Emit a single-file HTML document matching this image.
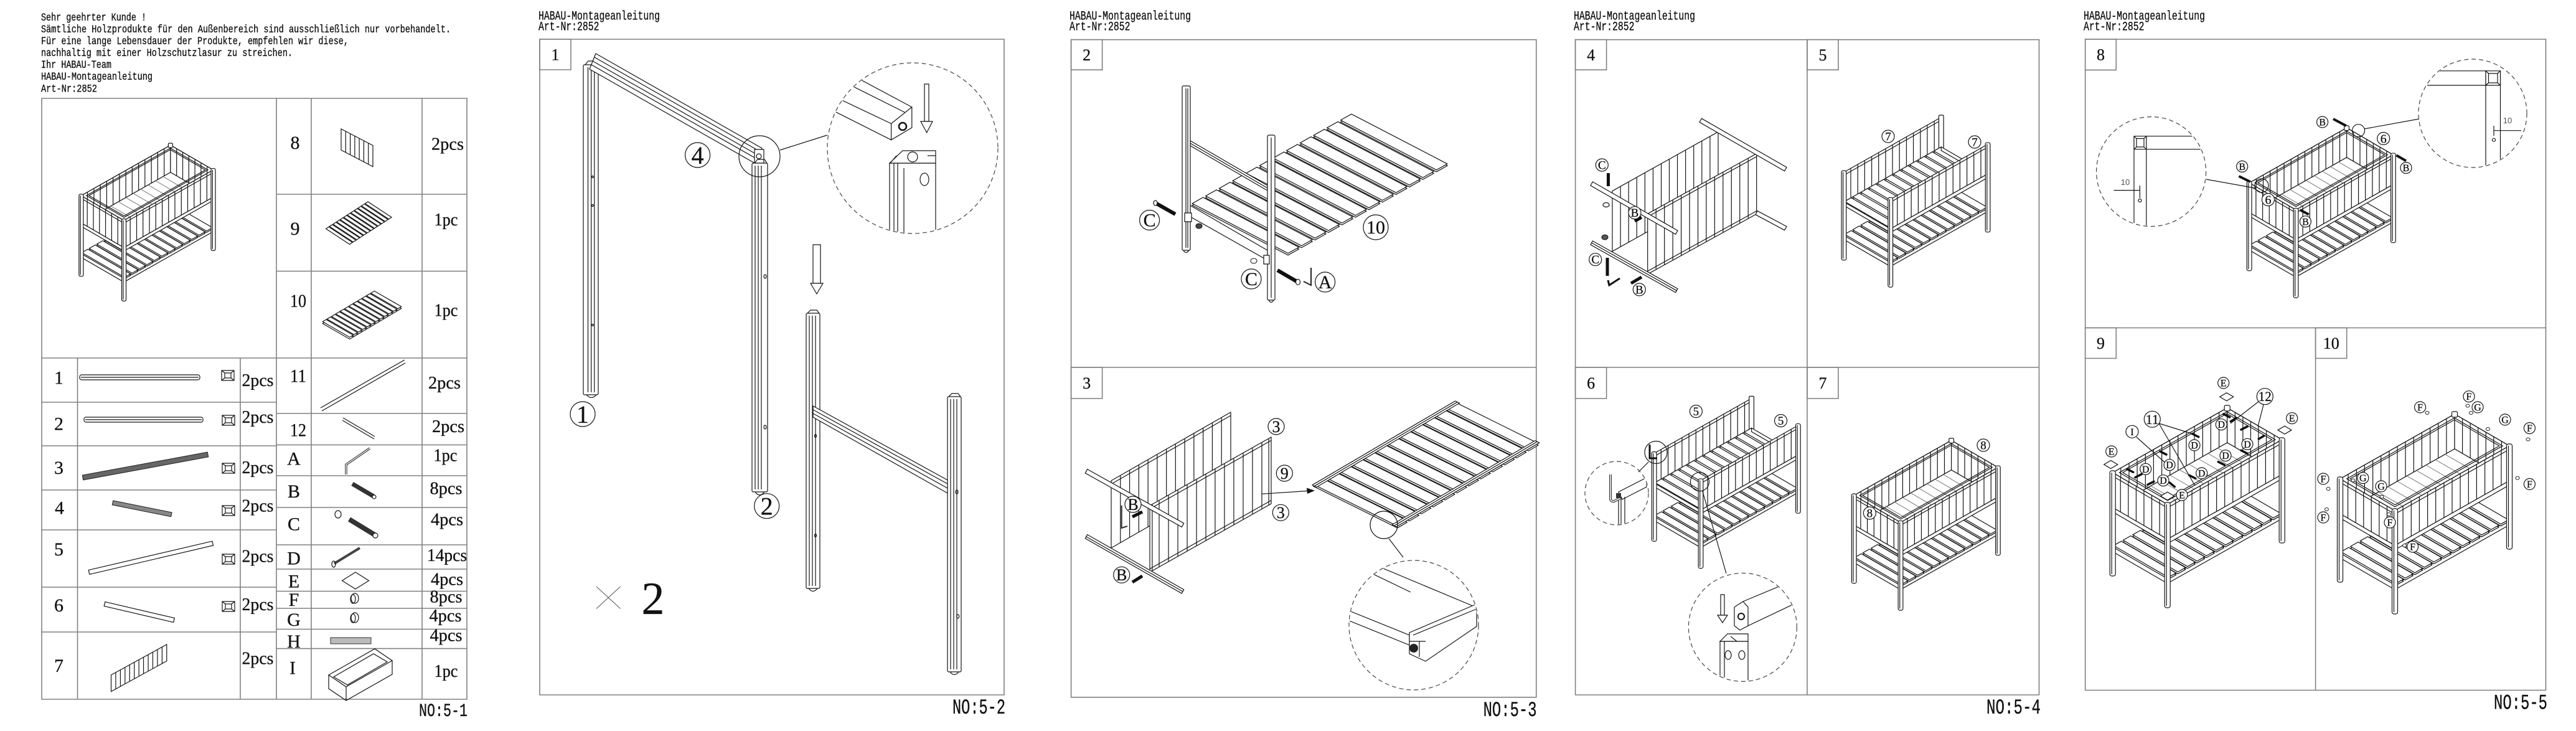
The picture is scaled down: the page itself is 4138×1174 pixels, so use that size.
<!DOCTYPE html>
<html><head><meta charset="utf-8">
<style>
html,body{margin:0;padding:0;background:#fff;}
svg{display:block}
</style></head><body>
<svg xmlns="http://www.w3.org/2000/svg" width="4138" height="1174" viewBox="0 0 4138 1174">
<style>
path,rect,line,polygon,polyline,circle,ellipse{vector-effect:non-scaling-stroke}
.f{fill:none;stroke:#151515;stroke-width:1.2}
.lf{fill:none;stroke:#777;stroke-width:1}
.w{fill:#fff;stroke:#151515;stroke-width:1.2}
.g{fill:none;stroke:#808080;stroke-width:1.6}
.d{fill:none;stroke:#444;stroke-width:1.2;stroke-dasharray:7 5}
.mono{font-family:"Liberation Mono",monospace;fill:#111;stroke:#111;stroke-width:0.35}
.ser{font-family:"Liberation Serif",serif;fill:#111;stroke:#111;stroke-width:0.3}
</style>
<rect width="4138" height="1174" fill="#fff"/>
<defs>
 <g id="s12"><rect x=".008" width=".067" height="1"/><rect x=".091" width=".067" height="1"/><rect x=".175" width=".067" height="1"/><rect x=".258" width=".067" height="1"/><rect x=".341" width=".067" height="1"/><rect x=".425" width=".067" height="1"/><rect x=".508" width=".067" height="1"/><rect x=".591" width=".067" height="1"/><rect x=".675" width=".067" height="1"/><rect x=".758" width=".067" height="1"/><rect x=".841" width=".067" height="1"/><rect x=".925" width=".067" height="1"/></g>
 <g id="s12h"><rect y=".008" height=".067" width="1"/><rect y=".091" height=".067" width="1"/><rect y=".175" height=".067" width="1"/><rect y=".258" height=".067" width="1"/><rect y=".341" height=".067" width="1"/><rect y=".425" height=".067" width="1"/><rect y=".508" height=".067" width="1"/><rect y=".591" height=".067" width="1"/><rect y=".675" height=".067" width="1"/><rect y=".758" height=".067" width="1"/><rect y=".841" height=".067" width="1"/><rect y=".925" height=".067" width="1"/></g>
 <path id="l14" d="M.071 0V1M.143 0V1M.214 0V1M.286 0V1M.357 0V1M.429 0V1M.5 0V1M.571 0V1M.643 0V1M.714 0V1M.786 0V1M.857 0V1M.929 0V1"/>
 <path id="l13" d="M.077 0V1M.154 0V1M.231 0V1M.308 0V1M.385 0V1M.462 0V1M.538 0V1M.615 0V1M.692 0V1M.769 0V1M.846 0V1M.923 0V1"/>
 <path id="l7" d="M.143 0V1M.286 0V1M.429 0V1M.571 0V1M.714 0V1M.857 0V1"/>
 <path id="l12" d="M.083 0V1M.167 0V1M.25 0V1M.333 0V1M.417 0V1M.5 0V1M.583 0V1M.667 0V1M.75 0V1M.833 0V1M.917 0V1"/>
 <g id="prof"><rect class="w" x="-10" y="-8" width="20" height="16"/><rect class="f" x="-5" y="-4" width="10" height="8"/><path class="f" d="M-10 -8L-5 -4M10 -8L5 -4M-10 8L-5 4M10 8L5 4"/></g>

 <g id="bedF">
  <g transform="matrix(184,-104,0,8,0,119)"><rect class="w" width="1" height="1"/></g>
  <g transform="matrix(88,51,0,8,-88,68)"><rect class="w" width="1" height="1"/></g>
  <g transform="matrix(184,-104,-88,-51,0,121)"><use href="#s12" class="w"/></g>
  <g transform="matrix(184,-104,-88,-51,0,118)"><use href="#s12" class="w"/></g>
  <g transform="matrix(184,-104,0,56,-88,-51)"><rect class="w" width="1" height="1"/><use href="#l14" class="f"/></g>
  <g transform="matrix(88,51,0,56,96,-155)"><rect class="w" width="1" height="1"/><use href="#l7" class="f"/></g>
  <g transform="matrix(184,-104,-88,-51,0,56)"><rect class="w" width="1" height="1"/><use href="#l12" class="lf"/></g>
  <g transform="matrix(184,-104,0,56,0,0)"><rect class="w" width="1" height="1"/><use href="#l14" class="f"/><path class="f" d="M0 .1H1"/></g>
  <g transform="matrix(184,-104,0,7,0,56)"><rect class="w" width="1" height="1"/></g>
  <g transform="matrix(88,51,0,56,-88,-51)"><rect class="w" width="1" height="1"/><use href="#l7" class="f"/><path class="f" d="M0 .1H1"/></g>
  <g transform="matrix(88,51,0,7,-88,5)"><rect class="w" width="1" height="1"/></g>
  <g transform="matrix(184,-104,-88,-51,0,0)" class="f"><rect width="1" height="1"/><rect x=".03" y=".06" width=".94" height=".88"/><rect x=".045" y=".09" width=".91" height=".82"/></g>
  <g class="w"><rect x="-4.5" y="-3" width="9" height="169" rx="3"/><rect x="-92.5" y="-54" width="9" height="169" rx="3"/><rect x="179.5" y="-107" width="9" height="169" rx="3"/><rect x="91.5" y="-159" width="9" height="9" rx="2"/></g>
  <path class="f" d="M-1.5 0V163M-89.5 -51V112M182.5 -104V59"/>
 </g>

 <g id="bedO">
  <g transform="matrix(184,-104,0,8,0,119)"><rect class="w" width="1" height="1"/></g>
  <g transform="matrix(88,51,0,8,-88,68)"><rect class="w" width="1" height="1"/></g>
  <g transform="matrix(184,-104,-88,-51,0,121)"><use href="#s12" class="w"/></g>
  <g transform="matrix(184,-104,-88,-51,0,118)"><use href="#s12" class="w"/></g>
  <g transform="matrix(184,-104,0,56,-88,-51)"><rect class="w" width="1" height="1"/><use href="#l14" class="f"/><path class="f" d="M0 .1H1"/></g>
  <rect class="w" x="91.5" y="-159" width="9" height="64" rx="2"/>
  <g transform="matrix(184,-104,-88,-51,0,59)"><rect class="w" width="1" height="1"/></g>
  <g transform="matrix(184,-104,-88,-51,0,56)"><use href="#s12" class="w"/></g>
  <g transform="matrix(88,51,0,7,96,-99)"><rect class="w" width="1" height="1"/></g>
  <g transform="matrix(184,-104,0,56,0,0)"><rect class="w" width="1" height="1"/><use href="#l14" class="f"/><path class="f" d="M0 .1H1"/></g>
  <g transform="matrix(184,-104,0,7,0,56)"><rect class="w" width="1" height="1"/></g>
  <g transform="matrix(88,51,0,7,-88,5)"><rect class="w" width="1" height="1"/></g>
  <g class="w"><rect x="-4.5" y="-3" width="9" height="169" rx="3"/><rect x="-92.5" y="-54" width="9" height="169" rx="3"/><rect x="179.5" y="-107" width="9" height="169" rx="3"/></g>
  <path class="f" d="M-1.5 0V163M-89.5 -51V112M182.5 -104V59"/>
 </g>

 <clipPath id="c1"><circle cx="1466" cy="238" r="136"/></clipPath>
 <clipPath id="c2"><circle cx="2271" cy="1004" r="103"/></clipPath>
 <clipPath id="c3"><circle cx="2597" cy="792" r="50"/></clipPath>
 <clipPath id="c4"><circle cx="2799" cy="1007" r="86"/></clipPath>
 <clipPath id="c5"><circle cx="3455.6" cy="275.6" r="87"/></clipPath>
 <clipPath id="c6"><circle cx="3972" cy="182" r="86"/></clipPath>
</defs>

<!-- ================= PAGE 1 ================= -->
<g class="mono" font-size="17.5">
 <text x="66" y="33" textLength="169" lengthAdjust="spacingAndGlyphs">Sehr geehrter Kunde !</text>
 <text x="66" y="52" textLength="658" lengthAdjust="spacingAndGlyphs">Sämtliche Holzprodukte für den Außenbereich sind ausschließlich nur vorbehandelt.</text>
 <text x="66" y="71" textLength="494" lengthAdjust="spacingAndGlyphs">Für eine lange Lebensdauer der Produkte, empfehlen wir diese,</text>
 <text x="66" y="90" textLength="404" lengthAdjust="spacingAndGlyphs">nachhaltig mit einer Holzschutzlasur zu streichen.</text>
 <text x="66" y="109" textLength="113" lengthAdjust="spacingAndGlyphs">Ihr HABAU-Team</text>
 <text x="66" y="128" textLength="179" lengthAdjust="spacingAndGlyphs">HABAU-Montageanleitung</text>
 <text x="66" y="147.5" textLength="90" lengthAdjust="spacingAndGlyphs">Art-Nr:2852</text>
</g>
<rect class="g" x="67" y="158" width="683" height="965"/>
<path class="g" d="M444 158V1123M500 158V1123M678 158V1123M124.5 575V1123M386 575V1123
M67 575H750M67 646H444M67 716H444M67 787H444M67 851H444M67 943H444M67 1015H444
M444 312H750M444 435.5H750M444 664H750M444 714.5H750M444 764H750M444 815H750M444 875H750M444 914H750M444 949.5H750M444 977H750M444 1010.5H750M444 1041.6H750"/>

<use href="#bedF" transform="translate(199,354) scale(0.78)"/>

<!-- right top parts -->
<g transform="matrix(51,26.6,0,34,548,207)"><rect class="w" width="1" height="1"/><use href="#l7" class="f"/></g>
<g transform="matrix(68.6,-44.1,38,25,523,367.7)"><use href="#s12" class="w"/></g>
<g transform="matrix(84.4,-50,43.4,25,517.6,520)"><use href="#s12" class="w"/></g>
<g transform="matrix(84.4,-50,43.4,25,517.6,517)"><use href="#s12" class="w"/></g>
<path class="f" d="M515 655L650 578M517 660L651 583"/>
<path class="f" d="M551 671L602 701M550 675L601 705"/>
<path d="M556 762V746L594 720" fill="none" stroke="#333" stroke-width="3.5"/>
<path d="M556 762V746L594 720" fill="none" stroke="#fff" stroke-width="1.3"/>
<line x1="566" y1="777" x2="600" y2="797" stroke="#333" stroke-width="7"/><circle class="w" cx="601" cy="798" r="3"/>
<ellipse class="f" cx="543" cy="826" rx="5" ry="6"/><line x1="561" y1="834" x2="602" y2="859" stroke="#333" stroke-width="8"/><circle class="w" cx="603" cy="860" r="4"/>
<line x1="537" y1="905" x2="578" y2="880" stroke="#444" stroke-width="4"/><ellipse class="f" cx="536" cy="906" rx="3" ry="5"/>
<polygon class="f" points="549.5,932.5 571,919 592.5,932.5 571,946"/>
<ellipse class="w" cx="570" cy="961" rx="6" ry="8"/><ellipse class="f" cx="567" cy="962" rx="4" ry="7"/>
<ellipse class="w" cx="570" cy="992" rx="6" ry="8"/><ellipse class="f" cx="567" cy="993" rx="4" ry="7"/>
<rect x="531" y="1024" width="65" height="10" fill="#bbb" stroke="#333"/>
<path class="f" d="M528 1084L602 1042L630 1061L556 1103Z M528 1084V1106L556 1125L630 1083V1061M556 1103V1125 M536 1087L600 1050L622 1063L558 1100Z"/>
<!-- left parts -->
<rect class="w" x="128" y="602" width="193" height="8" rx="3"/><path class="f" d="M130 606H319"/>
<rect class="w" x="135" y="670" width="191" height="8" rx="3"/><path class="f" d="M137 674H324"/>
<polygon points="132.3,763.1 333.3,726.1 334.7,733.9 133.7,770.9" fill="#666" stroke="#222"/>
<polygon points="181.7,804 276.1,823 274.7,829.8 180.3,810.8" fill="#888" stroke="#222"/>
<polygon class="w" points="142.2,915.6 340.9,869.2 342.5,876 143.8,922.4"/>
<polygon class="w" points="168.8,966.6 280.3,992.6 278.7,999.4 167.2,973.4"/>
<g transform="matrix(89.3,-49,0,26.6,178.5,1084)"><rect class="w" width="1" height="1"/><use href="#l12" class="f"/></g>
<use href="#prof" x="366" y="603"/><use href="#prof" x="367" y="675"/><use href="#prof" x="367" y="752"/><use href="#prof" x="367" y="820"/><use href="#prof" x="367" y="898"/><use href="#prof" x="367" y="974"/>
<!-- labels -->
<g class="ser" font-size="30" text-anchor="middle">
 <text x="474" y="239">8</text><text x="474" y="377">9</text><text x="479" y="493" textLength="26" lengthAdjust="spacingAndGlyphs">10</text>
 <text x="479" y="613.5" textLength="26" lengthAdjust="spacingAndGlyphs">11</text><text x="479" y="700.7" textLength="26" lengthAdjust="spacingAndGlyphs">12</text>
 <text x="472" y="746.5">A</text><text x="472" y="799">B</text><text x="472" y="851.5">C</text><text x="472" y="906.5">D</text><text x="472" y="943.6">E</text><text x="472" y="972.8">F</text><text x="472" y="1005">G</text><text x="472" y="1040">H</text><text x="470" y="1082.7">I</text>
 <text x="94.5" y="616.5">1</text><text x="94.5" y="690.4">2</text><text x="94.5" y="761">3</text><text x="95.5" y="825.7">4</text><text x="94.5" y="892">5</text><text x="94.5" y="982">6</text><text x="94.5" y="1079">7</text>
</g>
<g class="ser" font-size="28" text-anchor="middle">
 <text x="719" y="240.4" textLength="52" lengthAdjust="spacingAndGlyphs">2pcs</text>
 <text x="716.5" y="362" textLength="38" lengthAdjust="spacingAndGlyphs">1pc</text>
 <text x="716.5" y="507.7" textLength="38" lengthAdjust="spacingAndGlyphs">1pc</text>
 <text x="714" y="624" textLength="52" lengthAdjust="spacingAndGlyphs">2pcs</text>
 <text x="720" y="694" textLength="52" lengthAdjust="spacingAndGlyphs">2pcs</text>
 <text x="715.5" y="740.6" textLength="38" lengthAdjust="spacingAndGlyphs">1pc</text>
 <text x="716.5" y="793.7" textLength="52" lengthAdjust="spacingAndGlyphs">8pcs</text>
 <text x="718" y="843.7" textLength="52" lengthAdjust="spacingAndGlyphs">4pcs</text>
 <text x="718" y="901" textLength="64" lengthAdjust="spacingAndGlyphs">14pcs</text>
 <text x="718" y="939.6" textLength="52" lengthAdjust="spacingAndGlyphs">4pcs</text>
 <text x="716.5" y="967.7" textLength="52" lengthAdjust="spacingAndGlyphs">8pcs</text>
 <text x="715.5" y="998" textLength="52" lengthAdjust="spacingAndGlyphs">4pcs</text>
 <text x="716.5" y="1029.4" textLength="52" lengthAdjust="spacingAndGlyphs">4pcs</text>
 <text x="716.5" y="1087" textLength="38" lengthAdjust="spacingAndGlyphs">1pc</text>
 <text x="414" y="620" textLength="51" lengthAdjust="spacingAndGlyphs">2pcs</text>
 <text x="414" y="679" textLength="51" lengthAdjust="spacingAndGlyphs">2pcs</text>
 <text x="414" y="760" textLength="51" lengthAdjust="spacingAndGlyphs">2pcs</text>
 <text x="414" y="821.7" textLength="51" lengthAdjust="spacingAndGlyphs">2pcs</text>
 <text x="414" y="902.5" textLength="51" lengthAdjust="spacingAndGlyphs">2pcs</text>
 <text x="414" y="980" textLength="51" lengthAdjust="spacingAndGlyphs">2pcs</text>
 <text x="414" y="1066.6" textLength="51" lengthAdjust="spacingAndGlyphs">2pcs</text>
</g>
<text class="mono" x="673" y="1150" font-size="30" textLength="78" lengthAdjust="spacingAndGlyphs">NO:5-1</text>

<!-- ================= PAGE 2 ================= -->
<g class="mono" font-size="20">
 <text x="865" y="31.7" textLength="195" lengthAdjust="spacingAndGlyphs">HABAU-Montageanleitung</text>
 <text x="865" y="48.3" textLength="97.5" lengthAdjust="spacingAndGlyphs">Art-Nr:2852</text>
</g>
<rect class="g" x="867" y="63" width="746" height="1053"/>
<rect class="g" x="867" y="63" width="50" height="49"/>
<text class="ser" x="892" y="96.5" font-size="26" text-anchor="middle">1</text>
<!-- left post -->
<rect class="w" x="937" y="104" width="24" height="530" rx="2"/>
<path class="f" d="M944.5 108V630M949.7 108V630M954.8 108V630"/>
<path class="f" d="M942 634Q950 643 958 634"/>
<path class="f" d="M940 104L945 98H955L960 104"/>
<circle class="f" cx="952" cy="284" r="1.5"/><circle class="f" cx="952" cy="330" r="1.5"/><circle class="f" cx="952" cy="522" r="1.5"/>
<!-- rail 4 -->
<polygon class="w" points="957,86 1224,238 1214,263 947,111"/>
<path class="f" d="M955 92L1222 244M952 98L1219 250M950 104L1217 256"/>
<rect class="w" x="1212" y="240" width="15" height="22"/><circle class="f" cx="1219" cy="251" r="4"/>
<!-- post 2 -->
<rect class="w" x="1208" y="262" width="25" height="528" rx="2"/>
<path class="f" d="M1213 266V786M1218 266V786M1223 266V786"/>
<path class="f" d="M1212 262L1217 256H1228L1232 262"/>
<path class="f" d="M1213 790Q1220 800 1228 790"/>
<ellipse class="f" cx="1229" cy="444" rx="2" ry="3"/><ellipse class="f" cx="1229" cy="686" rx="2" ry="3"/>
<!-- magnifier -->
<circle class="f" cx="1220" cy="251" r="33"/>
<line class="f" x1="1253" y1="241" x2="1329" y2="217"/>
<circle class="d" cx="1466" cy="238" r="137"/>
<g clip-path="url(#c1)">
 <path class="f" d="M1320 94.6L1464.8 172M1320 113.6L1459.6 183.5M1320 145.5L1431.6 198.5M1320 168.5L1431.6 224.7"/>
 <polygon class="w" points="1431.6,198.5 1464.8,172 1464.8,205 1431.6,224.7"/>
 <circle cx="1450" cy="203" r="6" fill="#fff" stroke="#111" stroke-width="2.5"/>
 <rect class="w" x="1429" y="262" width="74" height="130"/>
 <polygon class="w" points="1429,262 1450,242 1503,242 1503,262"/>
 <circle class="f" cx="1466" cy="252" r="8"/>
 <path class="f" d="M1436 262V392M1442 262V392M1452 270V392M1440 250L1430 262M1490 250H1503"/>
 <ellipse class="f" cx="1485" cy="288" rx="7" ry="10"/>
</g>
<rect class="w" x="1485" y="135" width="7" height="60"/>
<polygon class="w" points="1479,195 1498,195 1488.7,213"/>
<!-- arrow 2 -->
<rect class="w" x="1306" y="393" width="12" height="62"/>
<polygon class="w" points="1302,455 1322,455 1312,472"/>
<!-- H frame -->
<rect class="w" x="1295" y="503" width="22" height="442" rx="2"/>
<path class="f" d="M1300 507V941M1305 507V941M1310 507V941M1297 503L1302 498H1312L1316 503M1299 945Q1306 954 1313 945"/>
<rect class="w" x="1522" y="637" width="22" height="442" rx="2"/>
<path class="f" d="M1527 641V1075M1532 641V1075M1537 641V1075M1524 637L1529 632H1539L1543 637M1526 1079Q1533 1088 1540 1079"/>
<polygon class="w" points="1306,652 1522,771 1522,792 1306,670"/>
<path class="f" d="M1306 658L1522 777M1306 664L1522 784"/>
<ellipse class="f" cx="1537" cy="790" rx="2" ry="3"/><ellipse class="f" cx="1538.7" cy="990" rx="2" ry="3"/>
<ellipse class="f" cx="1310" cy="700" rx="1.5" ry="2.5"/><ellipse class="f" cx="1310" cy="860" rx="1.5" ry="2.5"/>
<!-- labels -->
<circle class="w" cx="936" cy="665" r="20"/><text class="ser" x="936" y="679" font-size="40" text-anchor="middle">1</text>
<circle class="w" cx="1231.7" cy="812.7" r="20"/><text class="ser" x="1231.7" y="826.7" font-size="40" text-anchor="middle">2</text>
<circle class="w" cx="1120.6" cy="249" r="20"/><text class="ser" x="1120.6" y="263" font-size="40" text-anchor="middle">4</text>
<path d="M958 942L996.6 977.5M958 977.5L996.6 942" stroke="#555" stroke-width="1" fill="none"/>
<text class="ser" x="1049" y="986" font-size="74" text-anchor="middle">2</text>
<text class="mono" x="1530" y="1146" font-size="34" textLength="85" lengthAdjust="spacingAndGlyphs">NO:5-2</text>

<!-- ================= PAGE 3 ================= -->
<g class="mono" font-size="20">
 <text x="1718" y="31.7" textLength="195" lengthAdjust="spacingAndGlyphs">HABAU-Montageanleitung</text>
 <text x="1718" y="48.3" textLength="97.5" lengthAdjust="spacingAndGlyphs">Art-Nr:2852</text>
</g>
<rect class="g" x="1720.6" y="63.7" width="747.2" height="1056.1"/>
<path class="g" d="M1720.6 590H2467.8"/>
<rect class="g" x="1720.6" y="63.7" width="50" height="48.5"/>
<rect class="g" x="1720.6" y="590" width="50" height="50"/>
<text class="ser" x="1745.6" y="97" font-size="26" text-anchor="middle">2</text>
<text class="ser" x="1745.6" y="624" font-size="26" text-anchor="middle">3</text>
<!-- panel 2 -->
<polygon class="w" points="1912,330 2036,402 2036,418 1912,348"/>
<g transform="matrix(154,80,260,-146,1913,331)"><use href="#s12h" class="w"/></g>
<g transform="matrix(154,80,260,-146,1913,328)"><use href="#s12h" class="w"/></g>
<polygon class="w" points="1912,226 2036,298 2036,306 1912,234"/>
<path class="f" d="M1912 230L2036 302"/>
<rect class="w" x="1899" y="138" width="13" height="264" rx="2"/>
<path class="f" d="M1905 142V398M1908 142V398M1901 402Q1905 409 1910 402"/>
<rect class="w" x="2036" y="217" width="12" height="265" rx="2"/>
<path class="f" d="M2042 221V478M2038 482Q2042 489 2046 482"/>
<rect class="w" x="1903" y="342" width="11" height="14"/>
<rect class="w" x="2030" y="410" width="9" height="14"/>
<line x1="1857" y1="326.5" x2="1888" y2="344" stroke="#111" stroke-width="6"/>
<ellipse class="w" cx="1856" cy="326" rx="3" ry="4"/>
<ellipse cx="1926" cy="363" rx="5" ry="4" fill="#444" stroke="#111"/>
<ellipse cx="2014" cy="419" rx="5" ry="4" fill="#fff" stroke="#111"/>
<line x1="2052" y1="434" x2="2083" y2="452" stroke="#111" stroke-width="6"/>
<ellipse class="w" cx="2085" cy="453" rx="3.5" ry="4.5"/>
<path d="M2106 430V458L2094 452" fill="none" stroke="#222" stroke-width="2"/>
<circle class="w" cx="1846.6" cy="353.5" r="16"/><text class="ser" x="1846.6" y="363.7" font-size="30" text-anchor="middle">C</text>
<circle class="w" cx="2010" cy="448" r="16"/><text class="ser" x="2010" y="458.2" font-size="30" text-anchor="middle">C</text>
<circle class="w" cx="2128.6" cy="453" r="16"/><text class="ser" x="2128.6" y="463.2" font-size="30" text-anchor="middle">A</text>
<circle class="w" cx="2210" cy="365" r="20"/><text class="ser" x="2210" y="375.2" font-size="30" text-anchor="middle" textLength="30" lengthAdjust="spacingAndGlyphs">10</text>
<!-- panel 3 -->
<g transform="matrix(192,-110,0,108,1785,772)"><rect class="w" width="1" height="1"/><use href="#l13" class="f"/><path class="f" d="M0 .05H1"/></g>
<g transform="matrix(195,-110,0,107,1847,812)"><rect class="w" width="1" height="1"/><use href="#l13" class="f"/><path class="f" d="M0 .05H1M0 .95H1M.02 0V1M.98 0V1"/></g>
<polygon class="w" points="1746.7,753.6 1901.7,840.3 1898.3,846.4 1743.3,759.8"/>
<polygon class="w" points="1746.7,858.6 1901.7,947 1898.3,953 1743.3,864.7"/>
<path class="f" d="M1745 862L1900 950"/>
<line x1="1819" y1="830" x2="1835" y2="822" stroke="#111" stroke-width="5"/>
<line x1="1819" y1="935" x2="1835" y2="925" stroke="#111" stroke-width="5"/>
<path d="M1801.7 811.7V848L1811 845" fill="none" stroke="#333" stroke-width="2"/>
<circle class="w" cx="1820" cy="810" r="13"/><text class="ser" x="1820" y="818.8" font-size="26" text-anchor="middle">B</text>
<circle class="w" cx="1801.7" cy="923.3" r="13"/><text class="ser" x="1801.7" y="932.1" font-size="26" text-anchor="middle">B</text>
<circle class="w" cx="2050" cy="685" r="13"/><text class="ser" x="2050" y="693.8" font-size="26" text-anchor="middle">3</text>
<circle class="w" cx="2063.3" cy="760" r="13"/><text class="ser" x="2063.3" y="768.8" font-size="26" text-anchor="middle">9</text>
<circle class="w" cx="2057.3" cy="823.3" r="13"/><text class="ser" x="2057.3" y="832.1" font-size="26" text-anchor="middle">3</text>
<line class="f" x1="2026.7" y1="793.3" x2="2100" y2="788.5"/>
<polygon points="2112,788 2099,783.5 2100,793" fill="#111"/>
<!-- platform 9 -->
<g transform="matrix(229.7,-135,135,67,2108,782)"><use href="#s12" class="w"/></g>
<g transform="matrix(229.7,-135,135,67,2108,779)"><use href="#s12" class="w"/><rect class="w" width="1" height=".05"/><rect class="w" y=".95" width="1" height=".05"/><path class="f" d="M0 .025H1M0 .975H1"/></g>
<circle class="f" cx="2223" cy="843" r="22"/>
<line class="f" x1="2231" y1="865" x2="2254" y2="895"/>
<circle class="d" cx="2271" cy="1004" r="104"/>
<g clip-path="url(#c2)">
 <path class="f" d="M2160 887L2368 974M2160 900L2266 951"/>
 <polygon class="w" points="2160,978 2264,1020 2264,1036 2160,994"/>
 <polygon class="w" points="2264,1016 2372,970 2372,1006 2290,1062 2264,1050"/>
 <path class="f" d="M2270 1020L2372 978M2280 1030V1055M2264 1030H2290"/>
 <circle cx="2271" cy="1041" r="7" fill="#222"/>
</g>
<text class="mono" x="2382.6" y="1150" font-size="34" textLength="86" lengthAdjust="spacingAndGlyphs">NO:5-3</text>

<!-- ================= PAGE 4 ================= -->
<g class="mono" font-size="20">
 <text x="2528" y="31.7" textLength="195" lengthAdjust="spacingAndGlyphs">HABAU-Montageanleitung</text>
 <text x="2528" y="48.3" textLength="97.5" lengthAdjust="spacingAndGlyphs">Art-Nr:2852</text>
</g>
<rect class="g" x="2530.6" y="63.7" width="744.9" height="1052.3"/>
<path class="g" d="M2903 63.7V1116M2530.6 590H3275.5"/>
<rect class="g" x="2530.6" y="63.7" width="50" height="48.5"/>
<rect class="g" x="2903" y="63.7" width="50" height="48.5"/>
<rect class="g" x="2530.6" y="590" width="50" height="50"/>
<rect class="g" x="2903" y="590" width="50" height="50"/>
<text class="ser" x="2555.6" y="97" font-size="26" text-anchor="middle">4</text>
<text class="ser" x="2928" y="97" font-size="26" text-anchor="middle">5</text>
<text class="ser" x="2555.6" y="624" font-size="26" text-anchor="middle">6</text>
<text class="ser" x="2928" y="624" font-size="26" text-anchor="middle">7</text>
<!-- panel 4 -->
<g transform="matrix(170,-95,0,97,2590,306.7)"><rect class="w" width="1" height="1"/><use href="#l13" class="f"/></g>
<g transform="matrix(175,-96.6,0,97,2646.7,343.3)"><rect class="w" width="1" height="1"/><use href="#l13" class="f"/><path class="f" d="M0 .05H1M0 .95H1"/></g>
<polygon class="w" points="2733.4,190.3 2870,268.7 2866.6,274.7 2730,196.3"/>
<polygon class="w" points="2823,338.7 2870,363.7 2866.6,369.7 2820,344.7"/>
<polygon class="w" points="2558.4,292 2695,370.3 2691.6,376.3 2555,298"/>
<polygon class="w" points="2558.4,387 2695,463.7 2691.6,469.7 2555,393"/>
<path class="f" d="M2556.7 390L2693.3 466.7"/>
<rect x="2581" y="278" width="5" height="21" fill="#111"/>
<rect x="2579.5" y="414" width="5" height="29" fill="#111"/>
<ellipse class="f" cx="2580" cy="329" rx="5" ry="3.5"/><ellipse cx="2578" cy="381" rx="5" ry="4" fill="#555" stroke="#111"/>
<line x1="2626" y1="355" x2="2637" y2="349" stroke="#111" stroke-width="5"/>
<line x1="2620" y1="455" x2="2637" y2="445" stroke="#111" stroke-width="5"/>
<path d="M2583 450L2585 458L2602 447" fill="none" stroke="#111" stroke-width="3"/>
<g class="ser" font-size="19" text-anchor="middle">
 <circle class="w" cx="2573.3" cy="265" r="10"/><text x="2573.3" y="271.5">C</text>
 <circle class="w" cx="2626" cy="341.7" r="10"/><text x="2626" y="348.2">B</text>
 <circle class="w" cx="2562.7" cy="416.7" r="10"/><text x="2562.7" y="423.2">C</text>
 <circle class="w" cx="2633.3" cy="465" r="10"/><text x="2633.3" y="471.5">B</text>
</g>
<!-- panel 5 -->
<use href="#bedO" transform="translate(3036.7,320) scale(0.85)"/>
<g class="ser" font-size="19" text-anchor="middle">
 <circle class="w" cx="3033" cy="219" r="10"/><text x="3033" y="225.5">7</text>
 <circle class="w" cx="3172" cy="228" r="10"/><text x="3172" y="234.5">7</text>
</g>
<!-- panel 6 -->
<use href="#bedO" transform="translate(2732,771.5) scale(0.85)"/>
<circle class="f" cx="2660" cy="726.5" r="18"/>
<path d="M2650 714V736H2662" fill="none" stroke="#111" stroke-width="3"/>
<line class="f" x1="2648" y1="742" x2="2632" y2="758"/>
<circle class="d" cx="2597" cy="792" r="51"/>
<g clip-path="url(#c3)">
 <polygon class="w" points="2600,790 2645,767 2645,782 2606,802"/>
 <path class="f" d="M2600 798V850M2610 798V850M2604 798V850"/>
 <path d="M2587 762V800Q2587 806 2593 805L2603 800" fill="none" stroke="#333" stroke-width="4"/>
 <path d="M2587 762V800Q2587 806 2593 805L2603 800" fill="none" stroke="#fff" stroke-width="1.6"/>
 <rect x="2596" y="792" width="8" height="8" fill="#333"/>
</g>
<circle class="f" cx="2730.5" cy="773.7" r="15"/>
<line class="f" x1="2734.6" y1="788" x2="2773" y2="921"/>
<circle class="d" cx="2799.4" cy="1007.4" r="87"/>
<g clip-path="url(#c4)">
 <polygon class="w" points="2800,966 2886,930 2886,968 2808,1005"/>
 <polygon class="w" points="2786,975 2800,966 2808,975 2808,1005 2795,1012 2786,1005"/>
 <circle cx="2797" cy="990" r="5" fill="#fff" stroke="#111" stroke-width="2"/>
 <rect class="w" x="2763" y="1030" width="45" height="70"/>
 <polygon class="w" points="2763,1030 2775,1018 2808,1018 2808,1030"/>
 <path class="f" d="M2770 1030V1100M2780 1022L2790 1030"/>
 <ellipse class="f" cx="2776" cy="1052" rx="5" ry="7"/><ellipse class="f" cx="2798" cy="1052" rx="5" ry="7"/>
</g>
<rect class="w" x="2764" y="955" width="6" height="33"/>
<polygon class="w" points="2759,988 2775,988 2767,1000"/>
<g class="ser" font-size="19" text-anchor="middle">
 <circle class="w" cx="2724.4" cy="660.6" r="10"/><text x="2724.4" y="667.1">5</text>
 <circle class="w" cx="2860.6" cy="675.6" r="10"/><text x="2860.6" y="682.1">5</text>
</g>
<!-- panel 7 -->
<use href="#bedF" transform="translate(3053,839) scale(0.85)"/>
<g class="ser" font-size="19" text-anchor="middle">
 <circle class="w" cx="3186" cy="715" r="10"/><text x="3186" y="721.5">8</text>
 <circle class="w" cx="3003.4" cy="824" r="10"/><text x="3003.4" y="830.5">8</text>
</g>
<text class="mono" x="3191" y="1146" font-size="34" textLength="87" lengthAdjust="spacingAndGlyphs">NO:5-4</text>

<!-- ================= PAGE 5 ================= -->
<g class="mono" font-size="20">
 <text x="3347" y="31.7" textLength="195" lengthAdjust="spacingAndGlyphs">HABAU-Montageanleitung</text>
 <text x="3347" y="48.3" textLength="97.5" lengthAdjust="spacingAndGlyphs">Art-Nr:2852</text>
</g>
<rect class="g" x="3349.7" y="63" width="739.8" height="1045.5"/>
<path class="g" d="M3349.7 526.5H4089.5M3719.6 526.5V1108.5"/>
<rect class="g" x="3349.7" y="63" width="49.6" height="49.4"/>
<rect class="g" x="3349.7" y="526.5" width="49.6" height="49"/>
<rect class="g" x="3719.6" y="526.5" width="50.1" height="49"/>
<text class="ser" x="3374.5" y="96.7" font-size="26" text-anchor="middle">8</text>
<text class="ser" x="3374.5" y="560" font-size="26" text-anchor="middle">9</text>
<text class="ser" x="3744.7" y="560" font-size="26" text-anchor="middle">10</text>
<!-- panel 8 -->
<use href="#bedF" transform="translate(3688,337) scale(0.85)"/>
<line x1="3748" y1="191" x2="3768.7" y2="202" stroke="#111" stroke-width="4"/>
<line x1="3849.5" y1="249.4" x2="3865" y2="258.4" stroke="#111" stroke-width="4"/>
<line x1="3596.5" y1="283" x2="3614.8" y2="292" stroke="#111" stroke-width="4"/>
<line x1="3694.6" y1="337" x2="3708.7" y2="344.5" stroke="#111" stroke-width="4"/>
<circle class="f" cx="3633" cy="298" r="11"/><circle class="f" cx="3788.5" cy="209.7" r="10"/>
<line class="f" x1="3544" y1="288" x2="3622" y2="302"/>
<line class="f" x1="3886" y1="191" x2="3798" y2="207"/>
<circle class="d" cx="3455.6" cy="275.6" r="88"/>
<g clip-path="url(#c5)">
 <path class="f" d="M3428 218.7V370M3447.8 218.7V370M3447.8 218.7H3545M3447.8 239.7H3545"/>
 <rect class="w" x="3428" y="218.7" width="19.8" height="21"/>
 <rect class="f" x="3432" y="222.5" width="12" height="13.5"/>
 <path class="f" d="M3428 218.7L3432 222.5M3447.8 218.7L3444 222.5M3428 239.7L3432 236M3447.8 239.7L3444 236"/>
 <path class="f" d="M3395.6 305.6H3437.4M3437.4 298V318"/>
 <circle class="f" cx="3437.4" cy="322" r="2.5"/>
</g>
<text x="3414" y="297" font-family="Liberation Sans,sans-serif" font-size="13" fill="#555" text-anchor="middle">10</text>
<circle class="d" cx="3972" cy="182" r="87"/>
<g clip-path="url(#c6)">
 <path class="f" d="M3993 113.8V275M4016.5 113.8V275M3880 113.8H3993M3880 137H3993"/>
 <rect class="w" x="3993" y="113.8" width="23.5" height="23.2"/>
 <rect class="f" x="3997.5" y="118" width="14.5" height="15"/>
 <path class="f" d="M3993 113.8L3997.5 118M4016.5 113.8L4012 118M3993 137L3997.5 133M4016.5 137L4012 133"/>
 <path class="f" d="M4006 209.7H4050M4006 202V218"/>
 <circle class="f" cx="4006" cy="224.7" r="2.5"/>
</g>
<text x="4028" y="198" font-family="Liberation Sans,sans-serif" font-size="13" fill="#555" text-anchor="middle">10</text>
<g class="ser" font-size="16" text-anchor="middle">
 <circle class="w" cx="3730.6" cy="196" r="9"/><text x="3730.6" y="201.5">B</text>
 <circle class="w" cx="3865" cy="269.6" r="9"/><text x="3865" y="275.1">B</text>
 <circle class="w" cx="3601.7" cy="267.4" r="9"/><text x="3601.7" y="272.9">B</text>
 <circle class="w" cx="3703.4" cy="355.8" r="9"/><text x="3703.4" y="361.3">B</text>
</g>
<g class="ser" font-size="20" text-anchor="middle">
 <circle class="w" cx="3828.7" cy="222.5" r="10"/><text x="3828.7" y="229.3">6</text>
 <circle class="w" cx="3643.5" cy="320.6" r="10"/><text x="3643.5" y="327.4">6</text>
</g>
<!-- panel 9 -->
<use href="#bedF" transform="translate(3481.7,810)"/>
<g stroke="#111" stroke-width="3.5" stroke-linecap="round">
 <line x1="3416.7" y1="753.3" x2="3426.7" y2="758.3"/><line x1="3430" y1="766.7" x2="3440" y2="761.7"/>
 <line x1="3450" y1="778.3" x2="3460" y2="773.3"/><line x1="3470" y1="725" x2="3480" y2="730"/>
 <line x1="3521.7" y1="696.7" x2="3531.7" y2="701.7"/><line x1="3485" y1="775" x2="3493.3" y2="781.7"/>
 <line x1="3516.7" y1="763.3" x2="3526.7" y2="768.3"/><line x1="3563.3" y1="741.7" x2="3573.3" y2="746.7"/>
 <line x1="3600" y1="723.3" x2="3610" y2="728.3"/><line x1="3571.7" y1="665" x2="3581.7" y2="670"/>
 <line x1="3583.3" y1="676.7" x2="3591.7" y2="671.7"/><line x1="3600" y1="690" x2="3610" y2="685"/>
 <line x1="3628.3" y1="705" x2="3636.7" y2="700"/>
</g>
<path class="f" d="M3468 680L3523 697M3468 680L3526 780M3628 645L3583 680M3636 650L3627 685M3432 702L3480 745"/>
<polygon class="w" points="3565.7,637.3 3576.7,630.8 3587.7,637.3 3576.7,643.8"/>
<polygon class="w" points="3659,690.7 3670,684.2 3681,690.7 3670,697.2"/>
<polygon class="w" points="3379.7,746 3390.7,739.5 3401.7,746 3390.7,752.5"/>
<polygon class="w" points="3470.7,796.7 3481.7,790.2 3492.7,796.7 3481.7,803.2"/>
<g class="ser" font-size="16" text-anchor="middle">
 <circle class="w" cx="3571.7" cy="615" r="9"/><text x="3571.7" y="620.5">E</text>
 <circle class="w" cx="3681.7" cy="671.7" r="9"/><text x="3681.7" y="677.2">E</text>
 <circle class="w" cx="3391.7" cy="725" r="9"/><text x="3391.7" y="730.5">E</text>
 <circle class="w" cx="3505" cy="795" r="9"/><text x="3505" y="800.5">E</text>
 <circle class="w" cx="3568.3" cy="681.7" r="9"/><text x="3568.3" y="687.2">D</text>
 <circle class="w" cx="3525" cy="715" r="9"/><text x="3525" y="720.5">D</text>
 <circle class="w" cx="3610" cy="713.3" r="9"/><text x="3610" y="718.8">D</text>
 <circle class="w" cx="3485" cy="746.7" r="9"/><text x="3485" y="752.2">D</text>
 <circle class="w" cx="3575" cy="731.7" r="9"/><text x="3575" y="737.2">D</text>
 <circle class="w" cx="3446.7" cy="753.3" r="9"/><text x="3446.7" y="758.8">D</text>
 <circle class="w" cx="3536.7" cy="760" r="9"/><text x="3536.7" y="765.5">D</text>
 <circle class="w" cx="3475" cy="771.7" r="9"/><text x="3475" y="777.2">D</text>
 <circle class="w" cx="3425" cy="693.3" r="10"/><text x="3425" y="698.8">I</text>
</g>
<g class="ser" font-size="22" text-anchor="middle">
 <circle class="w" cx="3638.3" cy="636.7" r="13"/><text x="3638.3" y="644.2" textLength="21" lengthAdjust="spacingAndGlyphs">12</text>
 <circle class="w" cx="3457.3" cy="673.3" r="13"/><text x="3457.3" y="680.8" textLength="21" lengthAdjust="spacingAndGlyphs">11</text>
</g>
<!-- panel 10 -->
<use href="#bedF" transform="translate(3847,820)"/>
<g fill="#fff" stroke="#222">
 <ellipse cx="3899" cy="663" rx="3" ry="2.5"/><ellipse cx="3964" cy="651.6" rx="3" ry="2.5"/><ellipse cx="3969.5" cy="663" rx="3" ry="2.5"/>
 <ellipse cx="3996.5" cy="689" rx="3" ry="2.5"/><ellipse cx="4061" cy="705.6" rx="3" ry="2.5"/><ellipse cx="3740" cy="785" rx="3" ry="2.5"/>
 <ellipse cx="3780" cy="771.5" rx="3" ry="2.5"/><ellipse cx="3826" cy="797.7" rx="3" ry="2.5"/><ellipse cx="4044" cy="767.7" rx="3" ry="2.5"/>
 <ellipse cx="3737.4" cy="818" rx="3" ry="2.5"/><ellipse cx="3837.5" cy="826" rx="3" ry="2.5"/><ellipse cx="3862.6" cy="876" rx="3" ry="2.5"/>
</g>
<g class="ser" font-size="16" text-anchor="middle">
 <circle class="w" cx="3887.6" cy="654" r="9"/><text x="3887.6" y="659.5">F</text>
 <circle class="w" cx="3966" cy="636.7" r="9"/><text x="3966" y="642.2">F</text>
 <circle class="w" cx="3980" cy="654" r="9"/><text x="3980" y="659.5">G</text>
 <circle class="w" cx="4024" cy="674" r="9"/><text x="4024" y="679.5">G</text>
 <circle class="w" cx="4063.4" cy="687.6" r="9"/><text x="4063.4" y="693.1">F</text>
 <circle class="w" cx="3732" cy="769" r="9"/><text x="3732" y="774.5">F</text>
 <circle class="w" cx="3795.8" cy="767.7" r="9"/><text x="3795.8" y="773.2">G</text>
 <circle class="w" cx="3825" cy="781" r="9"/><text x="3825" y="786.5">G</text>
 <circle class="w" cx="4063.4" cy="777.5" r="9"/><text x="4063.4" y="783">F</text>
 <circle class="w" cx="3732" cy="831" r="9"/><text x="3732" y="836.5">F</text>
 <circle class="w" cx="3839" cy="839" r="9"/><text x="3839" y="844.5">F</text>
 <circle class="w" cx="3875.6" cy="878" r="9"/><text x="3875.6" y="883.5">F</text>
</g>
<text class="mono" x="4006" y="1138.5" font-size="34" textLength="86" lengthAdjust="spacingAndGlyphs">NO:5-5</text>
</svg>
</body></html>
